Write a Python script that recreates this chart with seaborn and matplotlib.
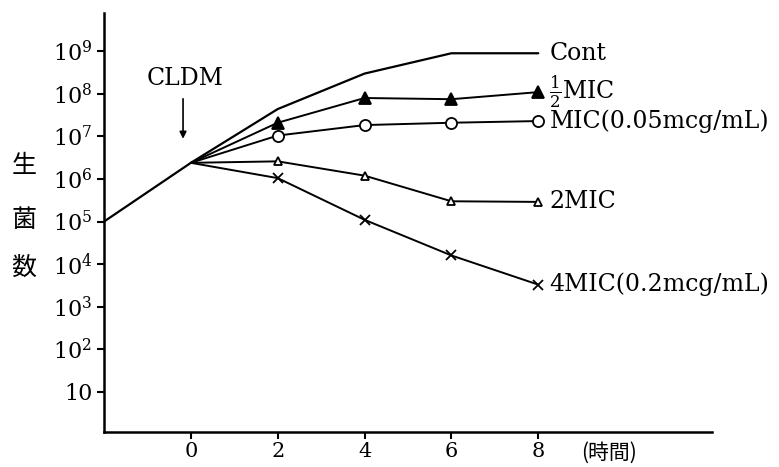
import matplotlib
matplotlib.use("Agg")
import matplotlib.pyplot as plt
import seaborn as sns
import pandas as pd

# 時間 (h) と生菌数
hours_cont = [-2, 0, 2, 4, 6, 8]
cont = [1e5, 2.4e6, 4.4e7, 3.0e8, 9.0e8, 9.0e8]

hours = [0, 2, 4, 6, 8]
half_mic = [2.4e6, 2.1e7, 8.0e7, 7.5e7, 1.1e8]
mic = [2.4e6, 1.05e7, 1.85e7, 2.1e7, 2.3e7]
mic2 = [2.4e6, 2.6e6, 1.2e6, 3.0e5, 2.9e5]
mic4 = [2.4e6, 1.05e6, 1.1e5, 1.6e4, 3.3e3]

x_ticks = [0, 2, 4, 6, 8]
y_exps = [1, 2, 3, 4, 5, 6, 7, 8, 9]
y_labels = ["10"] + [f"10$^{k}$" for k in y_exps[1:]]

sns.set_theme(style="ticks")
plt.rcParams['font.family'] = ['DejaVu Serif', 'Noto Sans CJK JP']
plt.rcParams['mathtext.fontset'] = 'dejavuserif'
plt.rcParams['text.color'] = 'black'
plt.rcParams['xtick.labelcolor'] = 'black'
plt.rcParams['ytick.labelcolor'] = 'black'

fig = plt.figure(figsize=(7.79, 4.67), dpi=100)
ax = fig.add_axes([104 / 779, 1 - 432 / 467, (712 - 104) / 779, (432 - 13) / 467])

df_cont = pd.DataFrame({'h': hours_cont, 'n': cont})
sns.lineplot(data=df_cont, x='h', y='n', ax=ax, color='black', lw=1.6)

series = [
    (half_mic, '^', 'black', 8, r"$\frac{1}{2}$MIC"),
    (mic, 'o', 'white', 8, "MIC(0.05mcg/mL)"),
    (mic2, '^', 'white', 6, "2MIC"),
    (mic4, 'x', 'black', 7, "4MIC(0.2mcg/mL)"),
]
for vals, mk, fc, ms, lab in series:
    d = pd.DataFrame({'h': hours, 'n': vals})
    sns.lineplot(data=d, x='h', y='n', ax=ax, color='black', lw=1.4,
                 marker=mk, markersize=ms, markerfacecolor=fc,
                 markeredgecolor='black', markeredgewidth=1.3,
                 markevery=[1, 2, 3, 4])
    ax.annotate(lab, xy=(hours[-1], vals[-1]), xytext=(8, 0),
                textcoords='offset points', va='center', ha='left', fontsize=17)

ax.annotate("Cont", xy=(hours_cont[-1], cont[-1]), xytext=(8, 0),
            textcoords='offset points', va='center', ha='left', fontsize=17)

# CLDM 投与
ax.annotate("", xy=(-0.18, 10 ** 6.88), xytext=(-0.18, 10 ** 7.95),
            arrowprops=dict(arrowstyle='-|>', color='black', lw=1.2,
                            mutation_scale=10))
ax.text(-0.13, 10 ** 8.35, "CLDM", ha='center', va='center', fontsize=17)

ax.set_yscale('log')
ax.set_xlim(-2, 12)
ax.set_ylim(10 ** 0.057, 10 ** 9.9)
ax.set_xticks(x_ticks)
ax.set_xticklabels([str(t) for t in x_ticks], fontsize=15)
ax.set_yticks([10 ** k for k in y_exps])
ax.set_yticklabels(y_labels, fontsize=16)
ax.minorticks_off()
ax.tick_params(axis='both', direction='out', length=5, width=1.5, color='black')
ax.tick_params(axis='x', pad=2)
ax.set_xlabel("")
ax.set_ylabel("")
for s in ['left', 'bottom']:
    ax.spines[s].set_linewidth(1.8)
    ax.spines[s].set_color('black')
sns.despine(ax=ax)

fig.text(609 / 779, 1 - 453 / 467, "(時間)", ha='center', va='center', fontsize=15,
         family=['Noto Sans CJK JP'])
for ch, yy in zip("生菌数", [166, 220, 268]):
    fig.text(24 / 779, 1 - yy / 467, ch, ha='center', va='center', fontsize=18,
             family=['Noto Sans CJK JP'])

fig.savefig("out.png", dpi=100)
